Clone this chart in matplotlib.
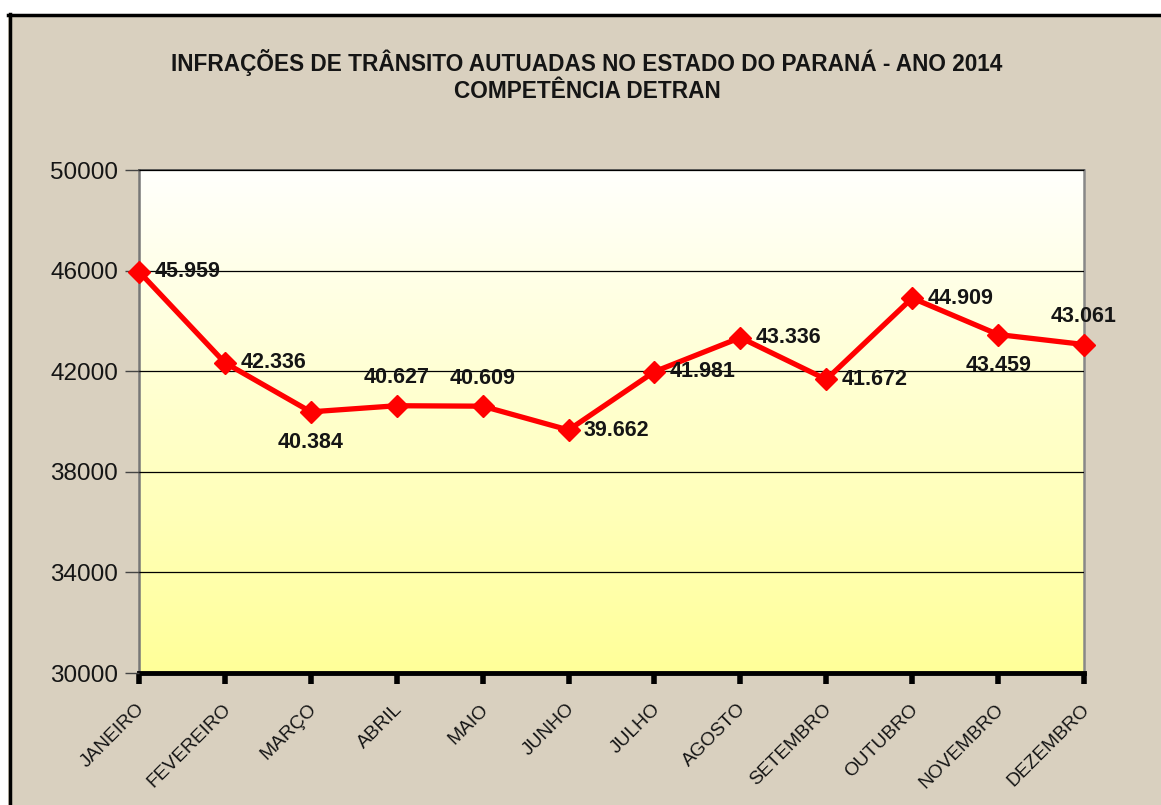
import numpy as np
import matplotlib.pyplot as plt
import matplotlib.transforms as mtransforms
from matplotlib.lines import Line2D

plt.rcParams['font.family'] = ['Liberation Sans', 'DejaVu Sans']

# dados
meses = ["JANEIRO", "FEVEREIRO", "MARÇO", "ABRIL", "MAIO", "JUNHO",
         "JULHO", "AGOSTO", "SETEMBRO", "OUTUBRO", "NOVEMBRO", "DEZEMBRO"]
infracoes = [45959, 42336, 40384, 40627, 40609, 39662,
             41981, 43336, 41672, 44909, 43459, 43061]
rotulos = ["45.959", "42.336", "40.384", "40.627", "40.609", "39.662",
           "41.981", "43.336", "41.672", "44.909", "43.459", "43.061"]
# posicao do rotulo: r = direita, b = abaixo, t = acima
posicao = ["r", "r", "b", "t", "t", "r", "r", "r", "r", "r", "b", "t"]
y_ticks = [30000, 34000, 38000, 42000, 46000, 50000]

fundo = "#D9D0BF"
texto = "#151515"

fig = plt.figure(figsize=(11.61, 8.05), dpi=100, facecolor=fundo)
ax = fig.add_axes([139/1161, 1-673/805, (1084-139)/1161, (673-170)/805])

# gradiente branco -> amarelo
grad = np.linspace(0, 1, 256).reshape(-1, 1)
top = np.array([1.0, 1.0, 0.99])
bot = np.array([1.0, 1.0, 0.6])
img = top[None, None, :] * (1 - grad[:, :, None]) + bot[None, None, :] * grad[:, :, None]
ax.imshow(img, extent=[0, 1, 0, 1], transform=ax.transAxes, aspect='auto', zorder=0)

x = np.arange(len(meses))
ax.plot(x, infracoes, color="#FF0000", lw=3.8, marker="D", markersize=11,
        zorder=5, clip_on=False)

for i in range(len(x)):
    if posicao[i] == "r":
        dx, dy, ha = 11, 0, "left"
    elif posicao[i] == "b":
        dx, dy, ha = 0, -22, "center"
    else:
        dx, dy, ha = 0, 20, "center"
    ax.annotate(rotulos[i], (x[i], infracoes[i]), xytext=(dx, dy),
                textcoords="offset points", ha=ha, va="center",
                fontsize=15.5, fontweight="bold", color=texto, zorder=6)

ax.set_xlim(0, 11)
ax.set_ylim(30000, 50000)
ax.set_yticks(y_ticks)
ax.set_yticklabels([str(v) for v in y_ticks], fontsize=17.5, color=texto)
ax.set_xticks(x)
ax.set_xticklabels(meses, rotation=45, ha="right", va="top",
                   rotation_mode="anchor", fontsize=13.8, color=texto)
ax.tick_params(axis="x", length=8, width=4, color="black", pad=12)
ax.tick_params(axis="y", length=10, width=1, color="#444444", pad=5)

desloc = mtransforms.ScaledTranslation(-3/100, 0, fig.dpi_scale_trans)
for lbl in ax.get_xticklabels():
    lbl.set_transform(lbl.get_transform() + desloc)

ax.yaxis.grid(True, color="black", lw=0.9)
ax.set_axisbelow(False)
for g in ax.get_ygridlines():
    g.set_zorder(2)

ax.spines["bottom"].set_linewidth(3.5)
ax.spines["bottom"].set_color("black")
ax.spines["left"].set_linewidth(1.8)
ax.spines["left"].set_color("#777777")
ax.spines["right"].set_linewidth(1.8)
ax.spines["right"].set_color("#888888")
ax.spines["top"].set_linewidth(1.2)
ax.spines["top"].set_color("#444444")

fig.text(587/1161, 1-62/805, "INFRAÇÕES DE TRÂNSITO AUTUADAS NO ESTADO DO PARANÁ - ANO 2014",
         ha="center", va="center", fontsize=16.3, fontweight="bold", color=texto)
fig.text(587/1161, 1-91/805, "COMPETÊNCIA DETRAN",
         ha="center", va="center", fontsize=16.3, fontweight="bold", color=texto)

# moldura
fig.add_artist(Line2D([9.5/1161, 9.5/1161], [0, 1-14/805], transform=fig.transFigure,
                      color="black", lw=2.5))
fig.add_artist(Line2D([8/1161, 1], [1-15/805, 1-15/805], transform=fig.transFigure,
                      color="black", lw=2.5))
fig.patches.append(plt.Rectangle((0, 1-14/805), 1, 14/805, transform=fig.transFigure,
                                 facecolor="white", edgecolor="none", zorder=-1))
fig.patches.append(plt.Rectangle((0, 0), 8/1161, 1, transform=fig.transFigure,
                                 facecolor="white", edgecolor="none", zorder=-1))

fig.savefig("out.png", dpi=100, facecolor=fundo)
